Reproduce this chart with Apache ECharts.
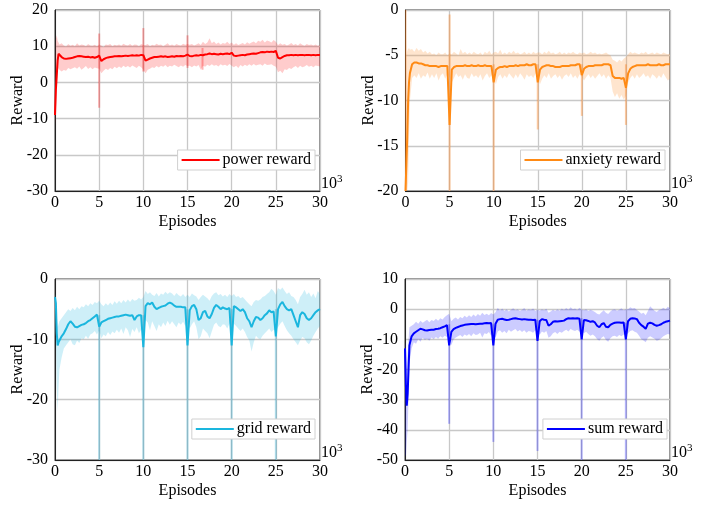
<!DOCTYPE html>
<html>
<head>
<meta charset="utf-8">
<script src="https://cdn.jsdelivr.net/npm/echarts@6/dist/echarts.min.js"></script>
<style>
  html, body { margin: 0; padding: 0; background: #fff; }
  #chart { width: 715px; height: 506px; }
</style>
</head>
<body>
<div id="chart"></div>
<script>
// episodes in thousands: fine steps at the start, then every 250 episodes
const episodeHead = [0, 0.1, 0.2, 0.3, 0.4, 0.5, 0.75, 1]
const episodes = episodeHead.slice()
for (let k = 1; k < 30; k++) {
  episodes.push(k + 0.25, k + 0.5, k + 0.75, k + 1)
}

// power reward
const powerMean = [-9, -2, 2, 6, 7.9, 7.6, 7.0, 6.6,
  6.5, 6.6, 6.7, 6.8,  7.0, 7.2, 7.3, 7.2,  7.1, 7.0, 7.1, 6.9,  7.0, 6.8, 7.0, 7.4,
  5.9, 6.4, 6.7, 6.9,  7.0, 7.1, 7.2, 7.2,  7.3, 7.2, 7.3, 7.4,  7.3, 7.4, 7.5, 7.4,  7.5, 7.4, 7.6, 7.5,
  6.0, 6.3, 6.6, 6.8,  7.0, 7.0, 7.1, 7.2,  7.1, 7.2, 7.0, 7.1,  7.2, 7.1, 7.3, 7.2,  7.3, 7.2, 7.4, 7.7,
  7.3, 7.2, 7.4, 7.5,  7.4, 7.6, 7.5, 7.7,  7.8, 8.0, 7.8, 7.9,  7.8, 7.7, 7.9, 7.8,  7.9, 8.0, 7.8, 8.2,
  7.4, 7.3, 7.4, 7.5,  7.6, 7.5, 7.7, 7.8,  7.9, 8.0, 7.9, 8.1,  8.3, 8.4, 8.3, 8.5,  8.4, 8.5, 8.4, 8.7,
  6.8, 6.6, 7.0, 7.3,  7.5, 7.5, 7.6, 7.5,  7.6, 7.5, 7.6, 7.6,  7.5, 7.6, 7.6, 7.5,  7.6, 7.5, 7.6, 7.6]
const powerHigh = [2, 12, 13, 11.5, 11, 10.5, 10.8, 10.2,
  9.9, 10.6, 10.1, 10.4,  10.0, 10.8, 10.2, 10.5,  10.3, 10.0, 10.6, 10.2,  10.1, 10.4, 10.0, 10.5,
  10.2, 9.8, 10.5, 10.3,  10.6, 10.0, 10.4, 10.2,  10.5, 10.1, 10.7, 10.3,  10.2, 10.6, 10.1, 10.5,  10.4, 10.0, 10.6, 10.3,
  10.3, 10.6, 10.0, 10.4,  10.2, 10.7, 10.3, 10.5,  10.0, 10.4, 10.8, 10.2,  10.5, 10.1, 10.6, 10.3,  10.2, 10.7, 10.4, 10.6,
  10.4, 10.6, 10.2, 10.5,  10.8, 10.3, 11.2, 10.6,  11.0, 12.2, 10.8, 11.3,  10.6, 11.0, 10.5, 10.9,  10.7, 11.2, 10.6, 11.0,
  10.4, 10.8, 10.3, 10.6,  10.9, 10.5, 11.1, 10.7,  11.0, 11.3, 10.8, 11.5,  11.2, 11.8, 11.0, 11.6,  11.4, 11.0, 11.7, 11.2,
  10.3, 10.8, 10.4, 10.6,  10.2, 10.5, 10.9, 10.3,  10.6, 10.2, 10.8, 10.4,  10.1, 10.6, 10.3, 10.5,  10.2, 10.5, 10.1, 10.3]
const powerLow = [-12, -8, -2, 3.0, 4.0, 3.5, 3.0, 3.4,
  3.2, 4.0, 3.6, 3.9,  4.2, 3.8, 4.4, 3.5,  4.0, 4.5, 3.7, 4.2,  3.6, 4.1, 3.9, 3.8,
  2.5, 3.2, 3.8, 3.4,  4.0, 3.6, 4.3, 3.9,  4.4, 4.0, 4.6, 4.2,  4.5, 4.1, 4.7, 4.3,  4.0, 4.6, 4.2, 3.5,
  2.5, 3.5, 3.8, 4.2,  4.0, 4.5, 4.1, 4.6,  4.3, 4.8, 4.2, 4.6,  4.4, 4.9, 4.5, 4.2,  4.7, 4.3, 4.8, 4.5,
  4.6, 4.2, 4.7, 4.4,  4.8, 3.5, 4.6, 4.3,  4.9, 4.5, 5.0, 4.6,  4.8, 4.4, 5.0, 4.7,  4.9, 4.5, 5.1, 4.6,
  4.2, 4.6, 4.0, 4.8,  4.4, 4.9, 4.5, 5.0,  4.6, 5.1, 4.7, 4.9,  5.0, 4.6, 5.2, 4.8,  4.9, 5.0, 4.6, 4.3,
  2.8, 3.2, 2.5, 3.6,  3.4, 4.0, 3.7, 4.2,  4.5, 4.0, 4.6, 4.2,  4.4, 4.8, 4.3, 4.6,  4.2, 4.7, 4.5, 4.4]
const powerSpikeX = [5, 10, 15, 16.7]
const powerSpikeLow = [-7, 3, 4, 3.5]
const powerSpikeHigh = [13.5, 15, 13, 9.5]

// anxiety reward
const anxietyMean = [-20, -17, -14, -10, -8, -7, -6.0, -5.8,
  -5.8, -5.9, -5.9, -6.0,  -6.1, -6.1, -6.2, -6.2,  -6.2, -6.2, -6.3, -6.2,  -6.2, -6.2, -6.2, -12.7,
  -6.6, -6.3, -6.2, -6.2,  -6.2, -6.2, -6.1, -6.2,  -6.2, -6.1, -6.2, -6.2,  -6.1, -6.2, -6.2, -6.1,  -6.2, -6.2, -6.2, -8.0,
  -6.6, -6.4, -6.3, -6.3,  -6.2, -6.3, -6.2, -6.2,  -6.2, -6.1, -6.2, -6.1,  -6.1, -6.1, -6.0, -6.1,  -6.1, -6.0, -6.0, -8.0,
  -6.6, -6.3, -6.2, -6.1,  -6.1, -6.2, -6.2, -6.3,  -6.3, -6.3, -6.2, -6.2,  -6.2, -6.2, -6.1, -6.1,  -6.1, -6.0, -6.0, -7.2,
  -6.5, -6.3, -6.2, -6.2,  -6.2, -6.1, -6.1, -6.1,  -6.1, -6.0, -6.0, -6.0,  -6.1, -7.3, -7.5, -7.5,  -7.5, -7.6, -7.5, -8.6,
  -7.0, -6.5, -6.3, -6.2,  -6.1, -6.1, -6.1, -6.1,  -6.1, -6.0, -6.1, -6.1,  -6.1, -6.1, -6.0, -6.1,  -6.1, -6.0, -6.0, -6.0]
const anxietyHigh = [0, -5, -4.5, -4.3, -4.2, -4.4, -4.3, -4.6,
  -4.2, -4.5, -4.3, -4.7,  -4.5, -4.8, -4.6, -4.9,  -4.8, -5.0, -4.7, -4.9,  -4.9, -4.7, -5.0, -4.8,
  -4.9, -4.6, -4.8, -5.0,  -4.3, -4.8, -4.6, -4.9,  -4.7, -4.9, -4.6, -4.8,  -4.9, -4.7, -5.0, -4.6,  -4.8, -4.5, -4.9, -4.7,
  -4.6, -4.8, -4.4, -4.9,  -4.7, -4.9, -4.6, -4.8,  -4.5, -4.8, -4.7, -4.9,  -4.8, -4.6, -4.9, -4.7,  -4.9, -4.6, -4.8, -4.7,
  -4.7, -4.9, -4.6, -4.8,  -4.5, -4.8, -4.7, -4.9,  -4.8, -4.6, -4.9, -4.7,  -4.9, -4.7, -4.8, -4.6,  -4.8, -4.9, -4.7, -4.8,
  -4.7, -4.9, -4.8, -4.6,  -4.8, -4.7, -4.9, -4.8,  -4.9, -4.8, -4.7, -4.9,  -5.0, -5.5, -5.6, -5.8,  -5.5, -5.7, -5.4, -5.2,
  -4.9, -4.6, -4.8, -4.7,  -4.8, -4.9, -4.7, -4.8,  -4.6, -4.9, -4.8, -4.7,  -4.9, -4.7, -4.8, -4.9,  -4.7, -4.8, -4.9, -4.8]
const anxietyLow = [-20, -20, -20, -19, -14, -10, -7.5, -7.2,
  -7.5, -7.0, -7.6, -7.2,  -7.4, -6.9, -7.6, -7.1,  -7.5, -7.0, -7.8, -7.2,  -7.0, -7.6, -7.1, -7.4,
  -8.0, -7.5, -7.0, -7.4,  -7.2, -7.7, -7.1, -7.5,  -7.6, -7.0, -7.4, -7.2,  -7.5, -7.1, -7.8, -7.3,  -7.0, -7.5, -7.2, -7.4,
  -8.2, -7.4, -7.1, -7.6,  -7.2, -7.5, -7.0, -7.3,  -7.6, -7.1, -7.5, -7.0,  -7.3, -7.7, -7.1, -7.4,  -7.2, -7.5, -7.0, -7.4,
  -8.2, -7.6, -7.2, -7.5,  -7.0, -7.6, -7.3, -7.1,  -7.5, -7.2, -7.7, -7.3,  -7.1, -7.4, -7.0, -7.5,  -7.2, -7.6, -7.1, -7.4,
  -7.8, -7.4, -7.1, -7.5,  -7.2, -7.6, -7.3, -7.0,  -7.4, -7.1, -7.6, -7.2,  -7.5, -9.0, -9.6, -9.2,  -9.8, -9.4, -9.9, -9.5,
  -8.0, -7.5, -7.2, -7.6,  -7.1, -7.5, -7.3, -7.0,  -7.4, -7.2, -7.6, -7.1,  -7.3, -7.6, -7.2, -7.5,  -7.0, -7.4, -7.8, -7.6]
const anxietySpikeX = [0, 5, 10, 15, 20, 25]
const anxietySpikeLow = [-20, -20, -20, -13.2, -11.7, -12.7]
const anxietySpikeHigh = [0, -0.5, -6, -6, -6, -6]

// grid reward
const gridMean = [-3.0, -4, -9, -11.0, -10.5, -10.2, -9.5, -9.0,
  -8.3, -7.5, -7.0, -7.4,  -7.9, -8.0, -7.8, -7.6,  -7.5, -7.3, -7.0, -6.8,  -6.5, -6.2, -5.9, -7.9,
  -7.2, -7.0, -6.8, -6.6,  -6.5, -6.4, -6.3, -6.2,  -6.2, -6.1, -6.0, -5.9,  -6.0, -6.1, -6.0, -6.8,  -6.2, -6.0, -6.0, -11.3,
  -4.5, -4.0, -4.2, -3.9,  -4.6, -5.0, -4.8, -4.6,  -4.5, -4.4, -4.1, -3.9,  -4.1, -4.4, -4.6, -4.6,  -4.6, -4.7, -4.7, -11.0,
  -5.2, -4.5, -4.3, -5.0,  -6.8, -6.5, -5.5, -5.3,  -6.2, -6.5, -5.8, -4.8,  -4.3, -4.6, -5.0, -4.7,  -4.9, -5.0, -4.8, -11.0,
  -4.5, -4.7, -5.0, -5.3,  -5.0, -5.5, -6.5, -7.0,  -8.0, -7.0, -6.3, -6.4,  -6.8, -6.5, -6.0, -5.7,  -5.2, -5.5, -5.4, -9.5,
  -5.0, -4.2, -3.8, -4.5,  -5.0, -5.2, -5.0, -6.0,  -7.0, -8.0, -6.0, -5.5,  -5.8, -6.5, -6.8, -6.5,  -6.0, -5.5, -5.2, -5.0]
const gridHigh = [-2.5, -3.0, -6.0, -8.0, -7.5, -7.0, -6.5, -6.0,
  -5.5, -5.0, -5.3, -4.8,  -5.2, -4.6, -5.0, -4.5,  -4.7, -4.2, -4.5, -4.0,  -4.3, -3.8, -4.0, -3.6,
  -4.2, -4.5, -4.0, -4.4,  -3.9, -4.3, -3.7, -4.1,  -3.6, -4.0, -3.5, -3.9,  -3.4, -3.8, -3.3, -3.6,  -3.5, -3.1, -3.4, -3.0,
  -2.0, -2.5, -2.2, -2.6,  -2.8, -2.3, -2.9, -2.4,  -2.6, -2.1, -2.5, -2.2,  -2.4, -2.8, -2.3, -2.7,  -2.9, -2.5, -3.0, -2.6,
  -3.0, -2.4, -2.7, -2.9,  -3.5, -3.0, -2.6, -2.9,  -3.2, -3.6, -2.8, -2.4,  -2.2, -2.7, -2.5, -2.9,  -2.6, -3.0, -2.5, -2.8,
  -2.5, -3.0, -2.8, -3.2,  -3.0, -3.4, -3.8, -4.2,  -4.5, -3.8, -3.5, -3.6,  -3.4, -3.0, -2.8, -2.5,  -2.2, -1.6, -2.0, -2.6,
  -1.5, -1.8, -1.4, -2.0,  -2.5, -2.2, -2.8, -3.0,  -3.5, -4.2, -3.0, -2.5,  -1.8, -2.6, -2.2, -3.0,  -2.4, -3.2, -2.0, -2.5]
const gridLow = [-4, -10, -18, -22, -18, -15, -13, -11.5,
  -11.0, -10.5, -10.0, -10.8,  -11.0, -10.2, -10.6, -9.8,  -10.0, -9.4, -9.9, -9.2,  -9.0, -8.6, -9.2, -8.5,
  -9.8, -9.2, -9.5, -8.8,  -9.3, -8.7, -9.0, -8.4,  -8.9, -8.2, -9.1, -8.0,  -8.5, -9.6, -8.3, -8.8,  -8.0, -9.0, -8.4, -8.2,
  -6.8, -7.2, -8.5, -7.0,  -7.8, -8.6, -7.5, -8.0,  -7.2, -7.8, -6.9, -7.6,  -7.0, -7.5, -8.0, -7.2,  -7.6, -7.1, -7.8, -7.4,
  -8.2, -7.5, -7.0, -8.0,  -10.0, -9.5, -8.2, -8.6,  -9.0, -9.8, -8.7, -7.6,  -7.2, -7.8, -8.0, -7.5,  -7.6, -8.2, -7.4, -7.8,
  -7.4, -7.8, -8.2, -8.6,  -8.2, -8.8, -9.6, -10.2,  -12.0, -10.5, -9.4, -9.8,  -10.0, -9.4, -9.0, -8.6,  -8.2, -8.8, -8.4, -8.6,
  -8.0, -7.4, -7.0, -7.8,  -8.5, -9.0, -9.4, -10.0,  -10.5, -11.0, -10.2, -9.6,  -9.8, -10.5, -10.8, -10.2,  -9.4, -8.8, -8.2, -7.8]
const gridSpikeX = [5, 10, 15, 20, 25]
const gridSpikeLow = [-30, -30, -30, -30, -30]
const gridSpikeHigh = [-6, -6, -5, -5, -5]

// sum reward
const sumMean = [-13, -25, -32, -28, -20, -12, -9.0, -8.0,
  -7.5, -7.0, -6.5, -6.7,  -7.0, -7.1, -6.9, -6.8,  -6.8, -6.6, -6.5, -6.3,  -6.0, -5.7, -5.3, -12.0,
  -7.5, -6.6, -6.2, -5.9,  -5.6, -5.4, -5.2, -5.1,  -5.0, -4.9, -4.9, -5.0,  -4.9, -4.8, -4.8, -4.7,  -4.6, -4.7, -4.6, -12.0,
  -4.8, -3.5, -3.3, -3.2,  -3.4, -3.6, -3.5, -3.3,  -3.1, -3.0, -3.2, -3.3,  -3.4, -3.3, -3.4, -3.5,  -3.5, -3.6, -3.5, -10.5,
  -4.0, -3.3, -3.5, -3.6,  -5.5, -5.0, -4.2, -4.0,  -4.1, -4.0, -3.9, -3.8,  -3.3, -3.0, -3.1, -3.0,  -3.1, -3.0, -3.2, -10.0,
  -3.6, -3.7, -3.9, -4.2,  -4.0, -4.4, -5.5, -6.0,  -5.0, -4.6, -5.8, -6.0,  -5.2, -4.8, -4.5, -4.4,  -4.4, -4.5, -4.4, -10.0,
  -4.0, -3.2, -3.0, -3.1,  -3.3, -4.5, -5.3, -5.8,  -6.5, -4.8, -4.5, -4.7,  -5.2, -5.5, -5.3, -5.0,  -4.5, -4.2, -4.0, -3.8]
const sumHigh = [-11, -12, -20, -15, -10, -6, -5.5, -5.0,
  -4.2, -4.8, -3.8, -4.5,  -4.0, -3.5, -4.3, -3.6,  -3.9, -3.2, -3.8, -3.0,  -3.4, -2.6, -2.0, -1.5,
  -4.0, -3.2, -2.8, -3.4,  -2.6, -3.0, -2.2, -2.8,  -2.0, -2.6, -1.8, -2.4,  -1.6, -2.2, -1.2, -1.9,  -1.5, -2.0, -1.3, -1.8,
  -1.0, 0.5, -0.5, 0.2,  -0.6, 0.0, -0.8, -0.2,  0.3, -0.4, 0.0, -0.6,  -0.2, 0.4, -0.5, 0.0,  -0.3, 0.2, -0.6, -0.1,
  -0.5, 0.0, -0.4, 0.1,  -1.2, -0.8, -0.2, -0.6,  0.0, -0.5, 0.2, -0.3,  0.4, -0.2, 0.6, 0.0,  0.2, -0.3, 0.5, -0.1,
  -0.4, 0.0, -0.6, -0.2,  -0.5, -0.9, -1.5, -1.8,  -1.0, -0.4, -1.2, -1.6,  -0.8, -0.2, 0.0, -0.5,  -0.2, 0.3, -0.4, 0.0,
  0.0, 0.6, 0.2, 0.4,  -0.3, -0.8, -1.5, -1.2,  -2.0, -0.6, 1.0, 0.2,  -0.5, -0.9, -0.3, 0.0,  0.5, 0.0, 0.8, 0.3]
const sumLow = [-48, -49, -44, -40, -30, -18, -13, -11,
  -11.5, -10.0, -10.8, -9.5,  -10.2, -9.8, -10.5, -9.4,  -10.0, -9.2, -9.8, -9.0,  -9.5, -8.8, -9.2, -8.5,
  -12.0, -10.0, -9.4, -9.0,  -8.6, -9.2, -8.4, -8.8,  -8.2, -9.0, -8.0, -8.6,  -8.4, -7.8, -9.4, -8.0,  -8.2, -7.6, -8.8, -8.0,
  -9.5, -7.4, -7.0, -7.8,  -7.2, -8.0, -6.8, -7.5,  -7.0, -6.6, -7.4, -6.9,  -7.6, -7.0, -7.8, -7.2,  -7.4, -7.8, -7.0, -7.5,
  -8.5, -7.4, -7.8, -7.2,  -9.5, -9.0, -8.0, -7.6,  -8.2, -7.5, -7.8, -7.2,  -6.8, -7.4, -6.6, -7.0,  -7.2, -6.8, -7.5, -7.0,
  -8.0, -7.5, -8.2, -8.8,  -8.4, -9.0, -10.0, -10.5,  -9.5, -9.0, -10.2, -10.8,  -9.6, -9.0, -8.8, -9.2,  -8.6, -9.0, -8.4, -8.8,
  -8.0, -7.2, -7.0, -7.5,  -7.8, -8.8, -10.0, -10.4,  -11.0, -9.5, -9.0, -9.4,  -9.8, -10.5, -10.2, -9.6,  -9.0, -8.6, -8.2, -8.4]
const sumSpikeX = [5, 10, 15, 20, 25]
const sumSpikeLow = [-38, -44, -47, -50, -50]
const sumSpikeHigh = [-5, -5, -3.5, -3, -4.5]

const xTicks = { min: 0, max: 30, interval: 5 }

const panels = [
  { name: 'power reward', mean: powerMean, high: powerHigh, low: powerLow,
    spikeX: powerSpikeX, spikeLow: powerSpikeLow, spikeHigh: powerSpikeHigh,
    yMin: -30, yMax: 20, yStep: 10,
    line: '#ff0000', band: 'rgba(255,0,0,0.2)', spike: 'rgba(255,0,0,0.3)',
    grid: { left: 55, top: 10, width: 265, height: 181 }, legend: { right: 400, top: 150 } },
  { name: 'anxiety reward', mean: anxietyMean, high: anxietyHigh, low: anxietyLow,
    spikeX: anxietySpikeX, spikeLow: anxietySpikeLow, spikeHigh: anxietySpikeHigh,
    yMin: -20, yMax: 0, yStep: 5,
    line: '#ff8a14', band: 'rgba(255,150,60,0.25)', spike: 'rgba(255,130,30,0.4)',
    grid: { left: 405.5, top: 10, width: 264.5, height: 181 }, legend: { right: 50, top: 150 } },
  { name: 'grid reward', mean: gridMean, high: gridHigh, low: gridLow,
    spikeX: gridSpikeX, spikeLow: gridSpikeLow, spikeHigh: gridSpikeHigh,
    yMin: -30, yMax: 0, yStep: 10,
    line: '#1ab6de', band: 'rgba(30,180,225,0.22)', spike: 'rgba(30,160,200,0.35)',
    grid: { left: 55, top: 279, width: 265, height: 181 }, legend: { right: 400, top: 419 } },
  { name: 'sum reward', mean: sumMean, high: sumHigh, low: sumLow,
    spikeX: sumSpikeX, spikeLow: sumSpikeLow, spikeHigh: sumSpikeHigh,
    yMin: -50, yMax: 10, yStep: 10,
    line: '#0000ff', band: 'rgba(0,0,255,0.2)', spike: 'rgba(0,0,255,0.28)',
    grid: { left: 405, top: 279, width: 265, height: 181 }, legend: { right: 48, top: 419 } }
]

const font = 'Liberation Serif'
const fontSize = 16
const chart = echarts.init(document.getElementById('chart'))

const option = {
  animation: false,
  backgroundColor: '#fff',
  textStyle: { fontFamily: font, color: '#000' },
  grid: [], xAxis: [], yAxis: [], legend: [], series: [], graphic: []
}

panels.forEach(function (p, i) {
  option.grid.push(Object.assign({ show: true, borderColor: '#222', borderWidth: 1, backgroundColor: 'transparent' }, p.grid))
  option.xAxis.push({
    type: 'value', gridIndex: i, min: xTicks.min, max: xTicks.max, interval: xTicks.interval,
    name: 'Episodes', nameLocation: 'middle', nameGap: 23, nameMoveOverlap: false,
    nameTextStyle: { fontFamily: font, fontSize: fontSize, color: '#000' },
    axisLine: { onZero: false, lineStyle: { color: '#222', width: 1 } },
    axisTick: { show: false },
    axisLabel: { fontFamily: font, fontSize: fontSize, color: '#000', margin: 4 },
    splitLine: { lineStyle: { color: '#c8c8c8', width: 1.3 } }
  })
  option.yAxis.push({
    type: 'value', gridIndex: i, min: p.yMin, max: p.yMax, interval: p.yStep,
    name: 'Reward', nameLocation: 'middle', nameGap: 29, nameMoveOverlap: false,
    nameTextStyle: { fontFamily: font, fontSize: fontSize, color: '#000' },
    axisLine: { onZero: false, lineStyle: { color: '#222', width: 1 } },
    axisTick: { show: false },
    axisLabel: { fontFamily: font, fontSize: fontSize, color: '#000', margin: 7 },
    splitLine: { lineStyle: { color: '#c8c8c8', width: 1.3 } }
  })
  option.legend.push({
    data: [p.name], right: p.legend.right, top: p.legend.top,
    orient: 'vertical', backgroundColor: '#fff', borderColor: '#d0d0d0', borderWidth: 1,
    padding: [2, 4, 2, 4], icon: 'rect', itemWidth: 38, itemHeight: 2, itemGap: 0,
    textStyle: { fontFamily: font, fontSize: fontSize, color: '#000', padding: [0, 0, 0, -2] }, selectedMode: false
  })
  // shaded min/max band
  option.series.push({
    type: 'custom', xAxisIndex: i, yAxisIndex: i, data: [0], silent: true, clip: true, z: 1,
    renderItem: function (params, api) {
      const pts = []
      for (let j = 0; j < episodes.length; j++) pts.push(api.coord([episodes[j], p.high[j]]))
      for (let j = episodes.length - 1; j >= 0; j--) pts.push(api.coord([episodes[j], p.low[j]]))
      return { type: 'polygon', shape: { points: pts }, style: { fill: p.band } }
    }
  })
  // thin outlier spikes at the restarts
  option.series.push({
    type: 'custom', xAxisIndex: i, yAxisIndex: i, data: p.spikeX.map(function (x, j) { return [x, p.spikeLow[j], p.spikeHigh[j]] }),
    silent: true, clip: true, z: 2,
    renderItem: function (params, api) {
      const top = api.coord([api.value(0), api.value(2)])
      const bottom = api.coord([api.value(0), api.value(1)])
      return { type: 'rect', shape: { x: top[0] - 1, y: top[1], width: 2, height: bottom[1] - top[1] }, style: { fill: p.spike } }
    }
  })
  option.series.push({
    name: p.name, type: 'line', xAxisIndex: i, yAxisIndex: i, symbol: 'none', z: 3,
    lineStyle: { color: p.line, width: 2 }, itemStyle: { color: p.line },
    data: episodes.map(function (x, j) { return [x, p.mean[j]] })
  })
  option.graphic.push({
    type: 'text', left: p.grid.left + p.grid.width + 1, top: p.grid.top + p.grid.height - 17,
    style: { text: '{a|10}{b|3}', rich: {
      a: { fontFamily: font, fontSize: fontSize, fill: '#000', verticalAlign: 'bottom' },
      b: { fontFamily: font, fontSize: 11, fill: '#000', verticalAlign: 'top', padding: [0, 0, 7, 0] }
    } }
  })
})

chart.setOption(option)
</script>
</body>
</html>
